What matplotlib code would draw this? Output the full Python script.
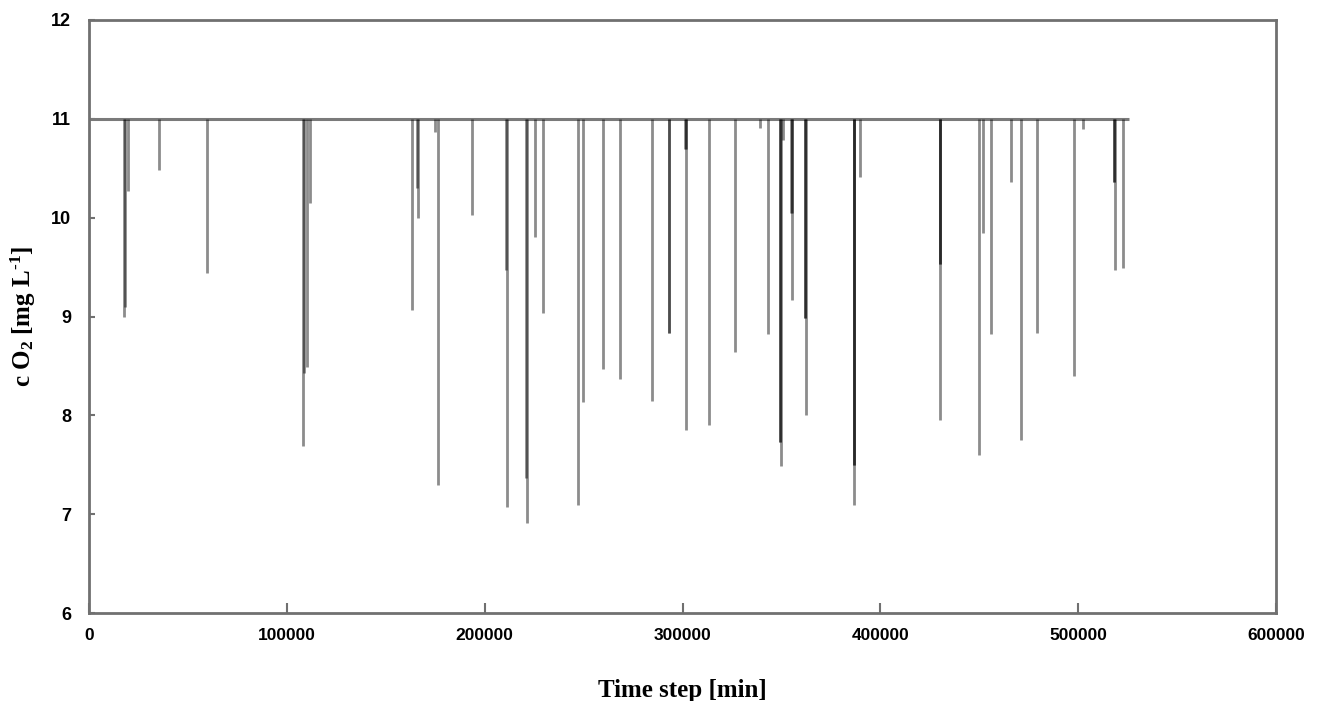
import matplotlib
matplotlib.use("Agg")
import matplotlib.pyplot as plt

# ---- data ----
t_end = 525600
baseline = 11.0
spike_times = [17700, 18000, 19700, 35400, 59500, 108300, 108600, 110000, 111700,
               163400, 165700, 166300, 175000, 176600, 193400, 211000, 211300,
               220900, 221200, 225450, 229650, 247000, 249900, 259970, 268400,
               284400, 293000, 293300, 301400, 301600, 301800, 313400, 326500,
               339200, 343400, 349300, 349500, 349700, 350600, 355000, 355200,
               355400, 361700, 362000, 362200, 386500, 386700, 386900, 389900,
               430000, 430200, 430400, 450100, 451700, 455800, 465900, 470900,
               479000, 497900, 502300, 518100, 518250, 518400, 522500]
spike_mins = [9.00, 9.10, 10.27, 10.48, 9.44, 7.69, 8.43, 8.49, 10.15,
              9.07, 10.30, 10.00, 10.87, 7.30, 10.03, 9.47, 7.07,
              7.37, 6.91, 9.80, 9.04, 7.09, 8.13, 8.47, 8.37,
              8.14, 8.83, 8.83, 10.69, 10.69, 7.85, 7.90, 8.64,
              10.91, 8.82, 7.73, 7.73, 7.49, 10.79, 10.05, 10.05,
              9.17, 8.98, 8.98, 8.00, 7.50, 7.50, 7.09, 10.41,
              9.53, 9.53, 7.95, 7.60, 9.84, 8.82, 10.36, 7.75,
              8.83, 8.40, 10.90, 10.36, 10.36, 9.47, 9.49]
x_ticks = [0, 100000, 200000, 300000, 400000, 500000, 600000]
y_ticks = [6, 7, 8, 9, 10, 11, 12]

plt.rcParams['mathtext.fontset'] = 'custom'
plt.rcParams['mathtext.rm'] = 'Liberation Serif:bold'
plt.rcParams['mathtext.it'] = 'Liberation Serif:bold'
plt.rcParams['mathtext.bf'] = 'Liberation Serif:bold'

fig = plt.figure(figsize=(13.18, 7.01), dpi=100)
ax = fig.add_axes([89/1318, 88/701, (1276-89)/1318, (613-20)/701])

spine_c = '#707070'
ax.hlines(baseline, 0, t_end, color='#7a7a7a', lw=2.2, zorder=2)
ax.vlines(spike_times, spike_mins, baseline, color='black', alpha=0.45, lw=2.0, zorder=3)

ax.set_xlim(0, 600000)
ax.set_ylim(6, 12)
ax.set_xticks(x_ticks)
ax.set_yticks(y_ticks)
ax.set_xticklabels([str(v) for v in x_ticks], fontfamily='Liberation Sans',
                   fontweight='bold', fontsize=12.5)
ax.set_yticklabels([str(v) for v in y_ticks], fontfamily='Liberation Sans',
                   fontweight='bold', fontsize=13)
ax.tick_params(axis='x', direction='in', length=7, width=1.5, color=spine_c, pad=11)
ax.tick_params(axis='y', direction='in', length=4, width=1.5, color=spine_c, pad=13)
for s in ax.spines.values():
    s.set_color(spine_c)
    s.set_linewidth(2)

ax.set_xlabel('Time step [min]', fontfamily='Liberation Serif', fontweight='bold',
              fontsize=18, labelpad=26)
ax.set_ylabel(r'c O$_2$ [mg L$^{\text{-1}}$]', fontfamily='Liberation Serif',
              fontweight='bold', fontsize=18, labelpad=9)

fig.savefig('out.png', dpi=100)
